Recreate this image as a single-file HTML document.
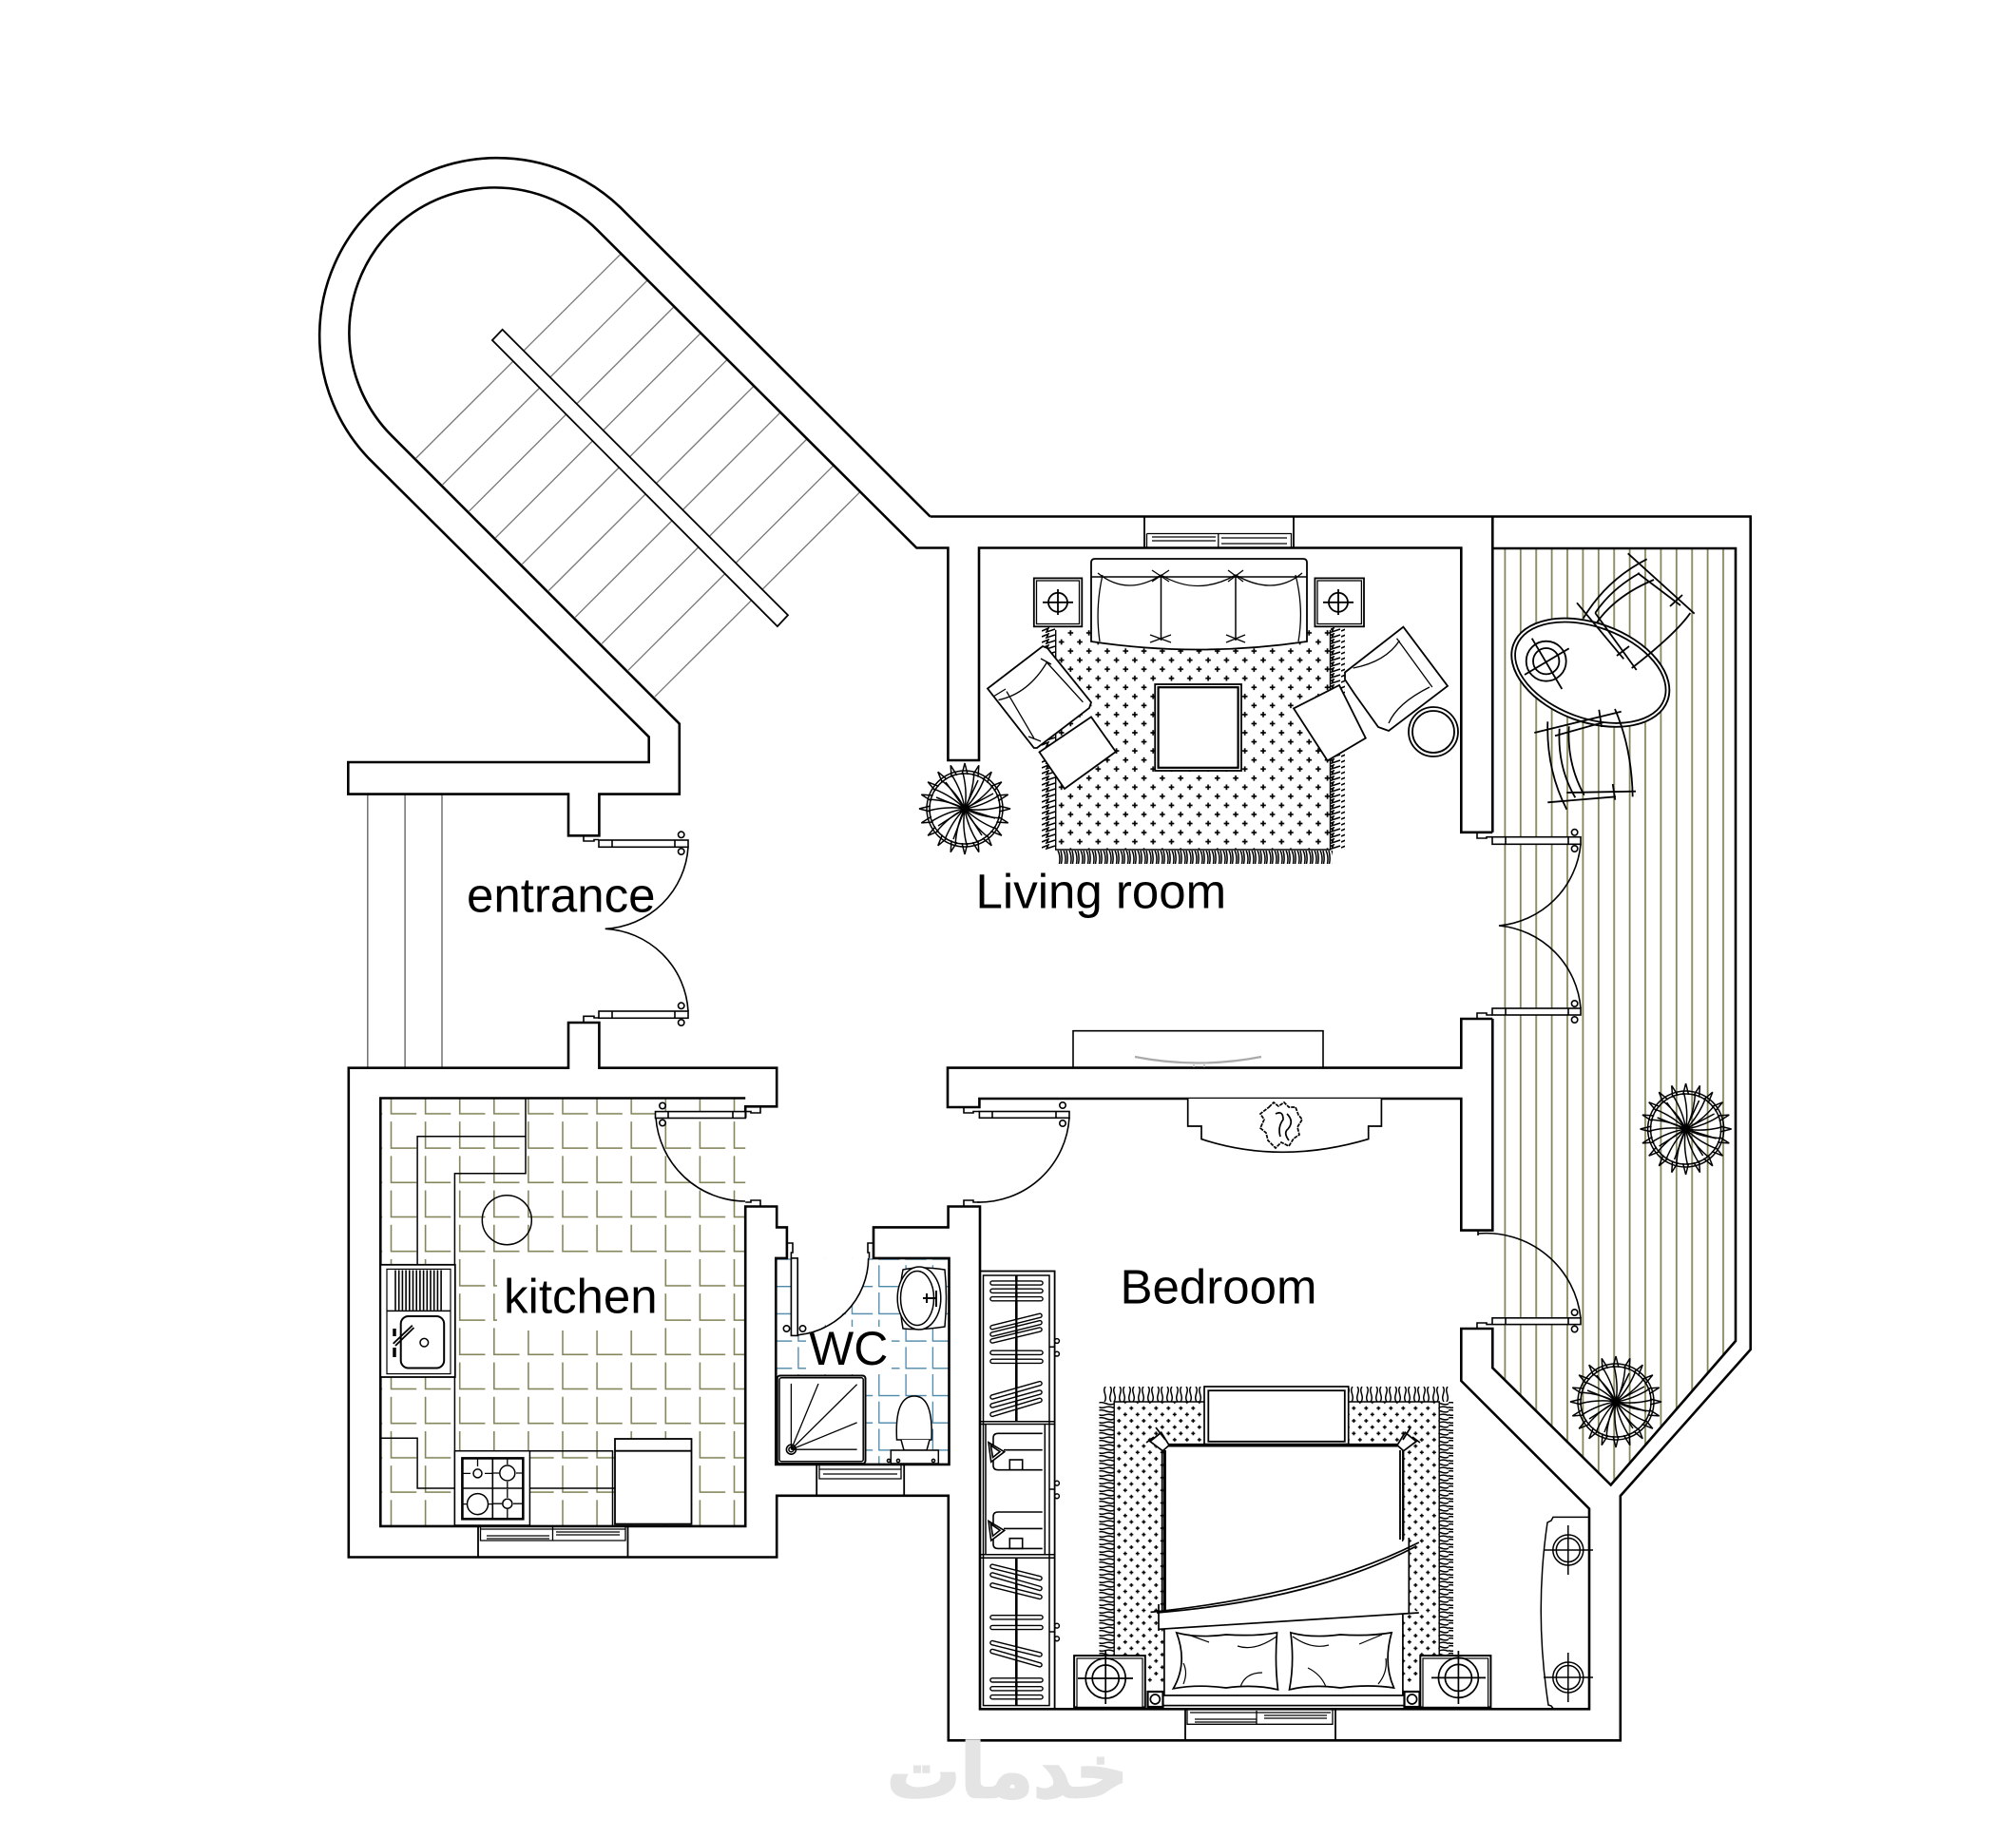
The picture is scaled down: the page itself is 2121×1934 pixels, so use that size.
<!DOCTYPE html>
<html><head><meta charset="utf-8"><title>Floor plan</title>
<style>html,body{margin:0;padding:0;background:#fff}svg{display:block}
text{font-family:"Liberation Sans",sans-serif;fill:#000;font-size:51px}</style></head>
<body>
<svg xmlns="http://www.w3.org/2000/svg" width="2121" height="1934" viewBox="0 0 2121 1934">
<defs>
<pattern id="stripe" patternUnits="userSpaceOnUse" x="1582.5" y="0" width="16.4" height="20"><path d="M.9 0V20" stroke="#86865c" stroke-width="1.8"/></pattern>
<pattern id="ktile" patternUnits="userSpaceOnUse" x="410.7" y="1136.5" width="36.1" height="36.2"><path d="M.8 7.5V35.4H27.5" fill="none" stroke="#86865c" stroke-width="1.6"/></pattern>
<pattern id="wtile" patternUnits="userSpaceOnUse" x="924" y="1325.8" width="28.3" height="28.7"><path d="M.8 5.5V27.9H22.5" fill="none" stroke="#4a86a8" stroke-width="1.3"/></pattern>
<pattern id="rug1" patternUnits="userSpaceOnUse" x="1116.7" y="828.3" width="19.3" height="19.1"><path d="M-2.8 0H2.8M0 -2.8V2.8M16.5 0H22.1M19.3 -2.8V2.8M-2.8 19.1H2.8M0 16.3V21.9M16.5 19.1H22.1M19.3 16.3V21.9M6.85 9.55H12.45M9.65 6.75V12.35" stroke="#000" stroke-width="1.7" fill="none"/></pattern>
<pattern id="rug2" patternUnits="userSpaceOnUse" x="1177.3" y="1481.7" width="13" height="13.3"><path d="M-2 0H2M0 -2V2M11 0H15M13 -2V2M-2 13.3H2M0 11.3V15.3M11 13.3H15M13 11.3V15.3M4.5 6.65H8.5M6.5 4.65V8.65" stroke="#000" stroke-width="1.5" fill="none"/></pattern>
<pattern id="frB" patternUnits="userSpaceOnUse" x="1112" y="895" width="6" height="14"><path d="M1 0Q4 6 2.5 14M4 0Q6 7 4.5 14" stroke="#000" stroke-width="1.5" fill="none"/></pattern>
<pattern id="frS" patternUnits="userSpaceOnUse" x="1096" y="660" width="15" height="6"><path d="M0 4L7 1L5 5L14 2" stroke="#000" stroke-width="1.5" fill="none"/></pattern>
<pattern id="frH" patternUnits="userSpaceOnUse" x="1156" y="1475" width="16" height="8"><path d="M0 1C6 -1 10 5 16 2M0 5.5C5 8.5 8 2.5 16 6.5" stroke="#000" stroke-width="1.5" fill="none"/></pattern>
<pattern id="frV" patternUnits="userSpaceOnUse" x="1156" y="1459" width="10" height="16"><path d="M2 0C6 5 -1 10 3 16M7 0C3 5 10 10 6 16" stroke="#000" stroke-width="1.5" fill="none"/></pattern>
<path id="sp" d="M-3 -36L0 -48L3 -36M0 0Q3 -18 -2 -38"/>
<g id="plant" fill="none" stroke="#000" stroke-width="1.5"><circle r="40"/><circle r="37"/>
<use href="#sp"/><use href="#sp" transform="rotate(18)"/><use href="#sp" transform="rotate(36)"/><use href="#sp" transform="rotate(54)"/><use href="#sp" transform="rotate(72)"/><use href="#sp" transform="rotate(90)"/><use href="#sp" transform="rotate(108)"/><use href="#sp" transform="rotate(126)"/><use href="#sp" transform="rotate(144)"/><use href="#sp" transform="rotate(162)"/><use href="#sp" transform="rotate(180)"/><use href="#sp" transform="rotate(198)"/><use href="#sp" transform="rotate(216)"/><use href="#sp" transform="rotate(234)"/><use href="#sp" transform="rotate(252)"/><use href="#sp" transform="rotate(270)"/><use href="#sp" transform="rotate(288)"/><use href="#sp" transform="rotate(306)"/><use href="#sp" transform="rotate(324)"/><use href="#sp" transform="rotate(342)"/>
<path d="M0 0L14 -30M0 0L-30 -12M0 0L-12 32M0 0L32 10M0 0L30 -16M0 0L-20 -28M0 0L-28 18M0 0L18 28"/></g>
<path id="hang" d="M1044 1350H1095M1044 1358.3H1095M1044 1366.7H1095M1044 1396.7L1094 1384.3M1044 1404L1094 1391.7M1044 1411L1094 1399M1044 1423.3H1095M1044 1432.3H1095M1044 1470L1094 1455.7M1044 1479L1094 1465M1044 1488.3L1094 1473.3M1044 1648.2L1094 1660.7M1044 1657L1094 1671.4M1044 1667.9L1094 1680.4M1044 1701.8H1095M1044 1712.5H1095M1044 1728.6L1094 1741M1044 1737.5L1094 1751.8M1044 1767.9H1095M1044 1776.8H1095M1044 1785.7H1095"/>
<g id="shirt" fill="none" stroke="#000" stroke-width="1.6"><path d="M1096.7 1508.3H1050Q1045 1508.3 1045 1513V1542Q1045 1546.7 1050 1546.7H1096.7"/><path d="M1096.7 1525.7H1056"/><path d="M1040 1517.7L1056.7 1527.7L1042.7 1538.3Z M1042.5 1521L1052 1527.5L1044.5 1533.5Z" fill="#fff"/><rect x="1062.3" y="1536" width="13.4" height="10.7"/></g>
</defs>
<rect width="2121" height="1934" fill="#fff"/>

<!-- floors -->
<polygon points="1570.3,577 1826,577 1826,1411 1695,1562 1570.3,1439" fill="url(#stripe)"/>
<rect x="400.3" y="1155.5" width="383.9" height="450.4" fill="url(#ktile)"/>
<rect x="523" y="1324" width="174" height="76" fill="#fff"/>
<rect x="816.3" y="1323.9" width="182.2" height="217" fill="url(#wtile)"/>
<rect x="848" y="1396" width="90" height="46" fill="#fff"/>
<path d="M840 1324H914Q912 1385 840 1405Z" fill="#fff"/>

<!-- stairs -->
<g stroke="#777" stroke-width="1.3">
<path d="M653.6 266.7L437.8 482M681.5 294.6L465.7 509.9M709.4 322.5L493.6 537.8M737.3 350.4L521.5 565.7M765.2 378.3L549.4 593.6M793.1 406.2L577.3 621.5M821 434.1L605.2 649.4M848.9 462L633.1 677.3M876.8 489.9L661 705.2M904.7 517.8L688.9 733.1"/>
</g>
<polygon points="528.6,346.8 517.9,358 817.9,659.1 829,647.3" fill="#fff" stroke="#000" stroke-width="1.8"/>
<path d="M386.8 835.6V1123.7M426.1 835.6V1123.7M465 835.6V1123.7" stroke="#666" stroke-width="1.4"/>

<!-- walls -->
<g fill="none" stroke="#000" stroke-width="2.6" stroke-linejoin="miter">
<path d="M978.6 543.5L652.6 218.2A187 187 0 0 0 388.2 482.6L682.7 775.4V802H366.3V835.6H598V879.3H630.4V835.6H714.8V761.6L412.2 458.6A153 153 0 0 1 628.6 242.2L964.3 576.5H997.4V800H1030V576.5H1537.3V875.8H1570.3"/>
<path d="M978.6 543.5H1841.7V1420L1704.8 1574V1831.3H997.8V1573.8H817.2V1638.5H366.8V1123.7H598V1076H630.4V1123.7H817.2V1164.3H784.2V1176.5"/>
<path d="M784.2 1155.5H400.3V1605.9H784.2V1269.5H817.2V1291.4H827.9V1323.9H816.3V1540.9H998.5V1323.9H919V1291.4H997.6V1269.5H1031V1798.3H1672V1587.5L1537.3 1453V1398H1570.3V1439.3L1694.7 1562.5L1826 1411V577H1570.3V544"/>
<path d="M1570.3 875.8V577M1570.3 1072V1294.6H1537.3V1156H1030.4V1165H997V1123.6H1537.3V1072H1570.3"/>
<path d="M859.2 1541V1573.8M951.2 1541V1573.8M503 1606V1638.5M660.5 1606V1638.5M1204 544V577M1361 544V577M1247 1798V1831.3M1405 1798V1831.3" stroke-width="1.8"/>
</g>

<!-- windows -->
<g fill="none" stroke="#000" stroke-width="1.3">
<path d="M1206.5 561.5H1358.5V576.5M1206.5 561.5V576.5M1212 565H1279M1285 566H1354M1212 569H1279M1285 572H1354M1281.8 561.5V576.5"/>
<path d="M505.5 1606V1621H658V1606M505.5 1609H658M512 1616H578M585 1612H652M512 1619H578M585 1615H652M581.5 1606V1621"/>
<path d="M862 1541V1556H948V1541M862 1546H948M866 1551H944"/>
<path d="M1249 1798.5V1814.3H1402V1798.5M1252 1802H1400M1257 1809H1322M1330 1805H1396M1257 1812H1322M1330 1808H1396M1322 1800V1814"/>
</g>

<!-- kitchen -->
<g fill="none" stroke="#000" stroke-width="1.5">
<path d="M553 1156V1234.7H478.4V1605M439.1 1330.8V1195.7H553M400.3 1513.3H439.1V1566H647M478.4 1526.7H644.5V1605"/>
<circle cx="533.3" cy="1283.7" r="26"/>
<rect x="400.3" y="1330.8" width="78.5" height="118.2" fill="#fff" stroke-width="1.8"/>
<rect x="407" y="1335.4" width="67" height="110.2" stroke-width="1.2"/>
<path d="M407 1379.4H474"/>
<path d="M416 1336.5V1378.6M419.7 1336.5V1378.6M423.4 1336.5V1378.6M427.1 1336.5V1378.6M430.8 1336.5V1378.6M434.5 1336.5V1378.6M438.2 1336.5V1378.6M441.9 1336.5V1378.6M445.6 1336.5V1378.6M449.3 1336.5V1378.6M453 1336.5V1378.6M456.7 1336.5V1378.6M460.4 1336.5V1378.6M464.1 1336.5V1378.6" stroke-width="1.6"/>
<rect x="421.7" y="1385" width="45.5" height="54.5" rx="8" stroke-width="2"/>
<circle cx="446.3" cy="1412.7" r="4.3"/>
<path d="M413.7 1413.8L433.8 1394.7M416 1416L435.5 1397" stroke-width="1.8"/>
<path d="M415 1398V1406M415 1418V1428" stroke-width="3.5"/>
<rect x="478.4" y="1526.7" width="79" height="78.3" fill="#fff"/>
<rect x="486.4" y="1534.4" width="63.9" height="63.9" stroke-width="2.6"/>
<path d="M518.3 1534.4V1598.3M486.4 1566H550.3" stroke-width="1.6"/>
<circle cx="502.5" cy="1550.4" r="4.5"/><circle cx="533.8" cy="1550" r="8"/><circle cx="502.5" cy="1582.6" r="11"/><circle cx="533.8" cy="1582.2" r="5"/>
<path d="M487 1550.4H495M510 1550.4H518M502.5 1535V1543M519 1550H525M543 1550H550M533.8 1535V1541M533.8 1559V1566M487 1582.6H491M514 1582.6H518M519 1582.2H528M540 1582.2H550M533.8 1567V1576M533.8 1588V1598" stroke-width="1.3"/>
<rect x="647" y="1514" width="80.5" height="89.6" fill="#fff" stroke-width="1.8"/>
<path d="M647 1526.7H727.5" stroke-width="1.8"/>
</g>

<!-- WC -->
<g fill="none" stroke="#000" stroke-width="1.5">
<rect x="817.7" y="1447.5" width="92.8" height="92.5" rx="3" fill="#fff" stroke-width="2"/>
<rect x="820" y="1449.8" width="88.2" height="87.9" rx="2"/>
<circle cx="832.4" cy="1525.2" r="5" stroke-width="1.6"/><circle cx="832.4" cy="1525.2" r="2.5"/>
<path d="M832.4 1525.2V1455.9M832.4 1525.2L861 1456M832.4 1525.2L901.6 1456.7M832.4 1525.2L901.6 1496.9M832.4 1525.2H901.6" stroke-width="1.3"/>
<path d="M950 1336Q968 1332 994 1336Q997 1365 994 1396Q968 1400 950 1398Q944 1365 950 1336Z" fill="#fff"/>
<ellipse cx="967" cy="1366" rx="22.8" ry="33" fill="#fff"/>
<ellipse cx="965" cy="1366" rx="17.5" ry="28.5"/>
<path d="M971 1366H985M975 1361V1371M985 1358V1375" stroke-width="2"/>
<path d="M943.5 1515Q941 1469 962 1469Q982 1469 980 1515Z" fill="#fff"/>
<path d="M948 1515L951 1526H975L978 1515" fill="#fff"/>
<rect x="937.3" y="1526" width="50" height="14" fill="#fff"/>
<circle cx="935" cy="1537" r="1.6"/>
<circle cx="945" cy="1537" r="1.6"/><circle cx="982" cy="1537" r="1.6"/>
</g>

<!-- living rug -->
<rect x="1096" y="660" width="15" height="234" fill="url(#frS)"/>
<rect x="1400" y="660" width="15" height="234" fill="url(#frS)"/>
<rect x="1112" y="895" width="290" height="14" fill="url(#frB)"/>
<rect x="1110.7" y="662.9" width="288.8" height="231.1" fill="url(#rug1)"/>
<path d="M1110.7 662.9V894H1399.5V662.9" fill="none" stroke="#000" stroke-width="1.4"/>

<!-- living furniture -->
<g fill="#fff" stroke="#000" stroke-width="1.8">
<path d="M1148 592Q1148 588 1152 588H1371Q1375 588 1375 592V675Q1260 692 1148 675Z"/>
<path d="M1148 607H1375M1221.5 607V674M1300 607V674" fill="none" stroke-width="1.5"/>
<path d="M1155 603Q1186 628 1221.5 605Q1260 628 1300 605Q1340 628 1370 603M1160 605Q1152 640 1157 675M1363 605Q1372 640 1366 675M1210 668L1232 676M1232 668L1210 676M1290 668L1310 676M1310 668L1290 676M1212 600L1230 612M1230 600L1212 612M1292 600L1308 612M1308 600L1292 612" fill="none" stroke-width="1.3"/>
<rect x="1087.8" y="608.4" width="50.5" height="50.9"/><rect x="1090.5" y="611" width="45" height="45.5" stroke-width="1.3"/>
<rect x="1383.4" y="608.4" width="51.6" height="50.9"/><rect x="1386" y="611" width="46.4" height="45.5" stroke-width="1.3"/>
<g fill="none"><circle cx="1113" cy="633.8" r="10"/><path d="M1097 633.8H1129M1113 620V647"/><circle cx="1408" cy="633.8" r="10"/><path d="M1392 633.8H1424M1408 620V647"/></g>
<polygon points="1039,724.5 1097,680 1102,682 1148,739 1146,745 1091,787 1087.8,787"/>
<path d="M1050.5 736.5Q1082 730 1102 696M1059 727.6Q1078 760 1087.8 776.7M1100.4 696L1139.4 738.8M1045 733L1058 725M1095 693L1106 699M1082 775L1095 780" fill="none" stroke-width="1.3"/>
<polygon points="1093.5,791.4 1148,754.4 1173.9,791 1120,830"/>
<polygon points="1415,707.5 1476.4,659.7 1523,721.8 1461,769 1450,765 1425,730 1415,715"/>
<path d="M1423.6 703Q1458 696.3 1472.4 674M1469.5 671.8Q1490 700 1506.8 723M1504 723Q1470 740 1461 761" fill="none" stroke-width="1.3"/>
<polygon points="1361,745.4 1409,721 1436.8,776.7 1396.6,800.4"/>
<circle cx="1508" cy="770" r="26"/><circle cx="1508" cy="770" r="22" fill="none"/>
<rect x="1215.2" y="720" width="90.8" height="91"/><rect x="1218.6" y="723.2" width="84" height="84.6" stroke-width="2.2"/>
</g>

<!-- console / TV -->
<path d="M1129 1123.6V1084.7H1392V1123.6" fill="none" stroke="#000" stroke-width="1.6"/>
<path d="M1194 1112Q1260 1125 1327 1112" fill="none" stroke="#aaa" stroke-width="2.2"/>
<path d="M1256 1120V1123M1267 1120V1123" stroke="#aaa" stroke-width="1.2"/>

<!-- plants -->
<use href="#plant" x="1015" y="851"/>
<use href="#plant" x="1773.6" y="1188"/>
<use href="#plant" x="1700" y="1475"/>

<!-- niche -->
<g fill="#fff" stroke="#000" stroke-width="1.7">
<path d="M1249.7 1156V1185H1264V1198.6Q1347 1226 1439.7 1198.6V1185H1453.4V1156"/>
<path d="M1335 1165L1340 1160L1345 1164L1351 1160L1356 1165L1363 1165L1366 1173L1370 1178L1365 1186L1367 1194L1361 1198L1356 1206L1348 1202L1342 1208L1334 1200L1332 1192L1326 1187L1330 1178L1326 1172Z" stroke-dasharray="4 1"/>
<path d="M1342 1172Q1350 1168 1350 1178Q1344 1186 1347 1196M1354 1172Q1362 1180 1355 1188Q1350 1192 1356 1200" fill="none"/>
</g>

<!-- doors -->
<g fill="#fff" stroke="#000" stroke-width="1.6">
<path d="M724 891.3A92 92 0 0 1 636.7 977.3A92 92 0 0 1 724 1064" fill="none"/>
<rect x="630" y="884" width="94" height="7.3"/><path d="M644 884V891.3M710 884V891.3"/>
<rect x="630" y="1064" width="94" height="7.3"/><path d="M644 1064V1071.3M710 1064V1071.3"/>
<circle cx="716.7" cy="878.3" r="3.2"/><circle cx="716.7" cy="896" r="3.2"/><circle cx="716.7" cy="1058.3" r="3.2"/><circle cx="716.7" cy="1076" r="3.2"/>
<path d="M614 879.3V885H625V883.5H630M614 1076V1069.3H625V1071H630" fill="none"/>

<path d="M1663 888.3A95 95 0 0 1 1577 974A95 95 0 0 1 1663 1061" fill="none"/>
<rect x="1570" y="880.7" width="93" height="7.6"/><path d="M1584 880.7V888.3M1650 880.7V888.3"/>
<rect x="1570" y="1061" width="93" height="7"/><path d="M1584 1061V1068M1650 1061V1068"/>
<circle cx="1656.6" cy="875.8" r="3.2"/><circle cx="1656.6" cy="893" r="3.2"/><circle cx="1656.6" cy="1056" r="3.2"/><circle cx="1656.6" cy="1073" r="3.2"/>
<path d="M1554 876V882H1564V880.7H1570M1554 1072V1066H1564V1068H1570" fill="none"/>

<path d="M1555 1298A100 100 0 0 1 1663 1387" fill="none"/>
<rect x="1570" y="1386.8" width="93" height="6.8"/><path d="M1584 1386.8V1393.6M1650 1386.8V1393.6"/>
<circle cx="1656.6" cy="1381" r="3.2"/><circle cx="1656.6" cy="1398.5" r="3.2"/>
<path d="M1554 1398V1392H1564V1393.6H1570M1555 1300V1295H1570" fill="none"/>

<path d="M1125 1176A95 95 0 0 1 1028 1265" fill="none"/>
<rect x="1030.4" y="1169.5" width="94.6" height="6.8"/><path d="M1044 1169.5V1176.3M1111 1169.5V1176.3"/>
<circle cx="1118" cy="1163" r="3.2"/><circle cx="1118" cy="1182" r="3.2"/>
<path d="M1014 1165V1171H1024V1169.5H1030.4M1014 1269.5V1263H1024V1265H1030.4" fill="none"/>

<path d="M690 1176A95 95 0 0 0 784 1264" fill="none"/>
<rect x="689.5" y="1169.6" width="94.7" height="6.9"/><path d="M703 1169.6V1176.5M771 1169.6V1176.5"/>
<circle cx="697" cy="1163.5" r="3.2"/><circle cx="697" cy="1181.5" r="3.2"/>
<path d="M800 1164.3V1171H790V1169.6H784.2M800 1269.5V1263H790V1265H784.2" fill="none"/>

<path d="M833 1405A82 82 0 0 0 913.7 1323.9" fill="none"/>
<rect x="832.4" y="1323.9" width="6.8" height="81.5"/>
<circle cx="827.5" cy="1398" r="3.2"/><circle cx="844.5" cy="1398" r="3.2"/>
<path d="M827.9 1308H834V1318H832.4V1323.9M919 1308H913V1318H914.5V1323.9" fill="none"/>
</g>

<!-- balcony table and chairs -->
<g fill="none" stroke="#000" stroke-width="1.8">
<ellipse cx="1673.3" cy="707.7" rx="86.3" ry="52" transform="rotate(20 1673.3 707.7)" fill="#fff" stroke-width="1.9"/>
<ellipse cx="1673.3" cy="707.7" rx="82.5" ry="48" transform="rotate(20 1673.3 707.7)"/>
<circle cx="1626.7" cy="695.7" r="21"/><circle cx="1626.7" cy="695.7" r="13.7"/>
<path d="M1604 710L1650.7 682.3M1611.7 671.7L1643.3 725"/>
<path d="M1712.7 582.3L1782.7 645.7M1723 603L1768 637M1732.7 588.3Q1690 610 1665.7 650.7M1740 610Q1700 626.7 1680 655M1725 603Q1695 620 1678.3 645M1659 634.3L1708.3 693.3M1678.3 645L1721.7 705M1778.3 645Q1763 667 1716.7 703M1757 638L1770 626M1701 690L1714 680"/>
<path d="M1614.3 771L1705.7 748.7M1636 774.3L1687 760M1628.3 759.3Q1626.7 810 1648.3 851.7M1640.7 766.7Q1638.3 806.7 1657.3 839.3M1650.7 764.3Q1648.3 803.3 1666.7 836.7M1628.3 844.3L1700 838.3M1648.3 834L1721 832.7M1699 746Q1716.7 786.7 1717.7 838.3M1682.3 746.7L1685 765M1696.7 825L1699.3 841.7"/>
</g>

<!-- wardrobe -->
<g fill="none" stroke="#000" stroke-width="1.5">
<rect x="1031" y="1337.5" width="78.6" height="460.5" stroke-width="1.8"/>
<rect x="1034.5" y="1342" width="69.5" height="452.6"/>
<path d="M1031 1495.7H1109.6M1031 1498.5H1109.6M1031 1635.7H1109.6M1031 1639.3H1109.6M1037 1498.5V1635.7M1099.3 1498.5V1635.7M1104 1417.3H1109.6M1104 1567H1109.6M1104 1717H1109.6"/>
<path d="M1069.3 1342V1495.7M1069.3 1639.3V1794.6" stroke-width="2.6"/>
<use href="#hang" stroke="#000" stroke-width="5.6" stroke-linecap="round"/>
<use href="#hang" stroke="#fff" stroke-width="2.8" stroke-linecap="round"/>
<path d="M1069.3 1342V1495.7M1069.3 1639.3V1794.6" stroke-width="2.2"/>
<use href="#shirt"/><use href="#shirt" y="82.7"/>
<circle cx="1112" cy="1411" r="2.4"/><circle cx="1112" cy="1424.6" r="2.4"/><circle cx="1112" cy="1560.7" r="2.4"/><circle cx="1112" cy="1574.3" r="2.4"/><circle cx="1112" cy="1710.7" r="2.4"/><circle cx="1112" cy="1724.3" r="2.4"/>
</g>

<!-- bedroom rug -->
<rect x="1156.5" y="1475" width="16" height="270" fill="url(#frH)"/>
<rect x="1514" y="1475" width="15" height="270" fill="url(#frH)"/>
<rect x="1160" y="1459" width="107" height="16" fill="url(#frV)"/>
<rect x="1419" y="1459" width="108" height="16" fill="url(#frV)"/>
<rect x="1172.2" y="1475" width="342" height="297" fill="url(#rug2)"/>
<path d="M1172.2 1772V1475H1514.2V1772" fill="none" stroke="#000" stroke-width="1.4"/>

<!-- bed -->
<g fill="#fff" stroke="#000" stroke-width="1.7">
<rect x="1267" y="1459" width="151.7" height="60.6"/><rect x="1271.3" y="1463.2" width="143.5" height="53.6" stroke-width="1.8"/>
<rect x="1224.9" y="1520.7" width="251" height="270"/>
<path d="M1226.3 1520.7H1473.7" stroke-width="3.6"/>
<path d="M1222.7 1526V1700M1226 1526V1700M1473 1526V1620M1476.5 1526V1620" fill="none" stroke-width="1.8"/>
<polygon points="1210,1516.7 1221.7,1507.3 1230,1520.7 1223.3,1526.7"/>
<polygon points="1490,1516.7 1478.3,1507.3 1470,1520.7 1476.7,1526.7"/>
<path d="M1216 1502L1226 1515M1484 1502L1476 1515M1206 1518L1214 1512M1494 1518L1486 1512" fill="none"/>
<path d="M1219 1696V1714.3L1492.8 1697L1482.3 1690V1618Q1383 1678 1219 1696Z" fill="#fff" stroke="none"/>
<path d="M1210.5 1696.4Q1383 1678.6 1492.8 1623M1217 1697Q1383 1683 1488 1628" fill="none"/>
<path d="M1219 1714.3L1492.8 1697M1219 1688V1716M1482.3 1618V1697" fill="none"/>
<path d="M1237.8 1717.9Q1260 1724 1290 1720Q1320 1722 1343.5 1717.9Q1341 1750 1344.5 1777.9Q1320 1772 1290 1776Q1260 1772 1234.4 1776.8Q1250 1750 1237.8 1717.9Z"/>
<path d="M1357.9 1717.9Q1380 1724 1410 1720Q1440 1722 1464.1 1717.9Q1455 1750 1466.5 1776Q1440 1772 1410 1776Q1380 1772 1356.5 1777.9Q1362 1750 1357.9 1717.9Z"/>
<path d="M1250 1720L1272 1728M1343 1722Q1320 1738 1302 1732M1360 1722Q1380 1736 1398 1731M1454 1720L1430 1730M1305 1775Q1310 1760 1328 1760M1395 1775Q1390 1762 1376 1755M1450 1772Q1460 1760 1458 1745M1245 1772Q1250 1760 1245 1750" fill="none" stroke-width="1.2"/>
<rect x="1222" y="1784" width="256" height="10.6"/>
<rect x="1207.5" y="1780" width="16" height="16" stroke-width="2.2"/><circle cx="1215.3" cy="1788" r="5"/>
<rect x="1477.5" y="1780" width="16" height="16" stroke-width="2.2"/><circle cx="1485.6" cy="1788" r="5"/>
<rect x="1130.1" y="1742.1" width="74.7" height="54.3" stroke-width="2"/><rect x="1133" y="1745" width="69" height="51.4" stroke-width="1.2"/>
<rect x="1494.3" y="1742.1" width="74.1" height="54.3" stroke-width="2"/><rect x="1497" y="1745" width="68.6" height="51.4" stroke-width="1.2"/>
<g fill="none"><circle cx="1163.2" cy="1766" r="21"/><circle cx="1163.2" cy="1766" r="14"/><path d="M1134 1766H1192M1163.2 1737V1793"/><circle cx="1534.4" cy="1765.4" r="21"/><circle cx="1534.4" cy="1765.4" r="14"/><path d="M1506 1765.4H1563M1534.4 1737V1793"/></g>
</g>

<!-- right console -->
<g fill="none" stroke="#000" stroke-width="1.5">
<path d="M1672 1596.4H1634L1632 1600L1628 1602Q1614 1697 1629 1794L1632 1795L1634 1797.5"/>
<circle cx="1649.8" cy="1631" r="16"/><circle cx="1649.8" cy="1631" r="12.5"/><path d="M1624 1631H1676M1649.8 1605V1657"/>
<circle cx="1649.8" cy="1765" r="16"/><circle cx="1649.8" cy="1765" r="12.5"/><path d="M1624 1765H1676M1649.8 1739V1791"/>
</g>

<!-- labels -->
<text x="491" y="959.5">entrance</text>
<text x="1026.5" y="955.3">Living room</text>
<text x="530" y="1381.3">kitchen</text>
<text x="851" y="1436" style="font-size:50px">WC</text>
<text x="1178.5" y="1371.4">Bedroom</text>
<text x="933" y="1891" text-anchor="start" textLength="254" lengthAdjust="spacingAndGlyphs" style="font-family:'DejaVu Sans',sans-serif;font-size:78px;font-weight:bold;fill:#e4e4e4;stroke:#e4e4e4;stroke-width:2.5">خدمات</text>
</svg>
</body></html>
